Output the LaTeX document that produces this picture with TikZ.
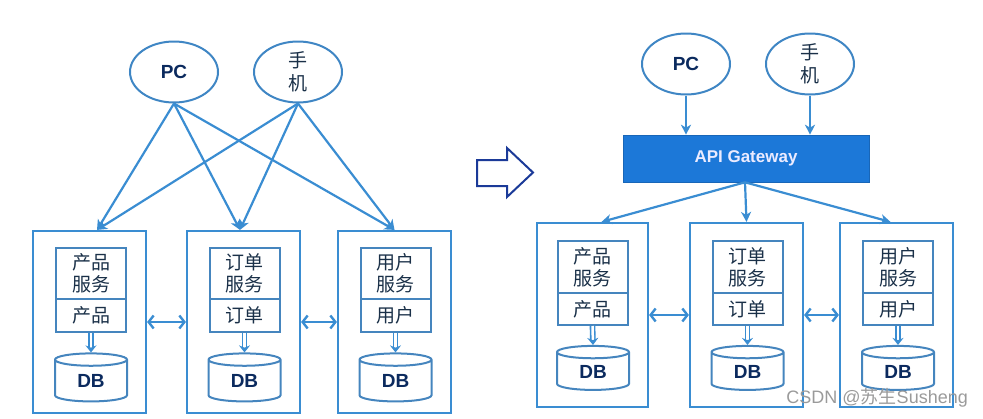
\documentclass[tikz,border=0pt]{standalone}
\usepackage{fontspec}
\setmainfont{Liberation Sans}
\newfontfamily\cjk{Noto Sans CJK SC}
\usetikzlibrary{arrows.meta,shapes.geometric}
\definecolor{lb}{HTML}{3A8DD2}
\definecolor{ib}{HTML}{4585BE}
\definecolor{el}{HTML}{3F86C4}
\definecolor{navy}{HTML}{0B2A5E}
\definecolor{txt}{HTML}{1A3048}
\definecolor{gw}{HTML}{1C78D8}
\definecolor{hol}{HTML}{1B3A98}
\definecolor{wm}{HTML}{9A9A9A}
\begin{document}
\begin{tikzpicture}[x=1pt,y=-1pt,
  outer/.style={draw=lb, line width=2.2pt, minimum width=113pt, minimum height=182pt, inner sep=0},
  svc/.style={draw=ib, line width=2pt, minimum width=70pt, minimum height=51pt, inner sep=0, font=\cjk\fontsize{19}{22}\selectfont, text=txt, align=center},
  tbl/.style={draw=ib, line width=2pt, minimum width=70pt, minimum height=33pt, inner sep=0, font=\cjk\fontsize{19}{22}\selectfont, text=txt},
  db/.style={cylinder, shape border rotate=90, aspect=0.45, draw=ib, line width=2pt, minimum width=72pt, minimum height=48pt, inner sep=0, font=\bfseries\fontsize{19}{20}\selectfont, text=navy},
  client/.style={ellipse, draw=el, line width=2pt, minimum width=88pt, minimum height=61pt, inner sep=0, text=navy},
  pcfont/.style={font=\bfseries\fontsize{19}{20}\selectfont},
  phfont/.style={font=\cjk\fontsize{19}{23}\selectfont, align=center, text=txt},
  arr/.style={draw=lb, line width=2.2pt, -{Stealth[length=10pt,width=10pt,inset=3pt]}},
  dbl/.style={draw=lb, double=white, double distance=2.5pt, line width=1.6pt, -{Stealth[length=7pt,width=11pt]}},
  bi/.style={draw=lb, line width=2.4pt, {Straight Barb[length=5pt,width=13pt]}-{Straight Barb[length=5pt,width=13pt]}},
]
\useasboundingbox (0,0) rectangle (983,418);

% ---------- left part ----------
\node[client, pcfont] (pcA) at (174,72) {PC};
\node[client, phfont] (phA) at (298,72) {手\\机};

\node[outer] (oA1) at (89.5,322) {};
\node[outer] (oA2) at (243.5,322) {};
\node[outer] (oA3) at (394.5,322) {};

\node[svc] (sA1) at (91,273.5) {产品\\服务};
\node[tbl] (tA1) at (91,315.5) {产品};
\node[svc] (sA2) at (244.5,273.5) {订单\\服务};
\node[tbl] (tA2) at (244.5,315.5) {订单};
\node[svc] (sA3) at (395.5,273.5) {用户\\服务};
\node[tbl] (tA3) at (395.5,315.5) {用户};

\node[db] (dA1) at (91,381) {DB};
\node[db] (dA2) at (244.5,381) {DB};
\node[db] (dA3) at (395.5,381) {DB};

\coordinate (inA1) at ([xshift=7.5pt]oA1.north);
\coordinate (inA2) at ([xshift=-3.5pt]oA2.north);
\coordinate (inA3) at (oA3.north);

\draw[arr] (pcA.south) -- (inA1);
\draw[arr] (pcA.south) -- (inA2);
\draw[arr] (pcA.south) -- (inA3);
\draw[arr] (phA.south) -- (inA1);
\draw[arr] (phA.south) -- (inA2);
\draw[arr] (phA.south) -- (inA3);

\draw[dbl] (tA1.south) -- (dA1.top);
\draw[dbl] (tA2.south) -- (dA2.top);
\draw[dbl] (tA3.south) -- (dA3.top);

\draw[bi] (oA1.east) -- (oA2.west);
\draw[bi] (oA2.east) -- (oA3.west);

% ---------- hollow arrow ----------
\draw[hol, line width=2pt, fill=white, line join=miter]
  (477,160) -- (507,160) -- (507,148) -- (533,172.5) -- (507,197) -- (507,186) -- (477,186) -- cycle;

% ---------- right part ----------
\node[client, pcfont] (pcB) at (686,64) {PC};
\node[client, phfont] (phB) at (810,64) {手\\机};

\node[fill=gw, draw=gw!85!black, line width=0.6pt, minimum width=246pt, minimum height=47pt, inner sep=0,
      text=white!92!blue, font=\bfseries\fontsize{17}{18}\selectfont] (gw) at (746,158.5) {API Gateway};

\node[outer, minimum width=111pt, minimum height=184pt] (oB1) at (592.5,315) {};
\node[outer, minimum width=113pt, minimum height=184pt] (oB2) at (746.5,315) {};
\node[outer, minimum width=113pt, minimum height=184pt] (oB3) at (896.5,315) {};

\node[svc, minimum height=52pt] (sB1) at (592.5,267) {产品\\服务};
\node[tbl, minimum height=32pt] (tB1) at (592.5,309) {产品};
\node[svc, minimum height=52pt] (sB2) at (747.5,267) {订单\\服务};
\node[tbl, minimum height=32pt] (tB2) at (747.5,309) {订单};
\node[svc, minimum height=52pt] (sB3) at (898,267) {用户\\服务};
\node[tbl, minimum height=32pt] (tB3) at (898,309) {用户};

\node[db, minimum height=44pt] (dB1) at (593,371.5) {DB};
\node[db, minimum height=44pt] (dB2) at (747.5,371.5) {DB};
\node[db, minimum height=44pt] (dB3) at (898,371.5) {DB};

\coordinate (gA) at ([xshift=-1pt]gw.south);
\coordinate (inB1) at ([xshift=9pt]oB1.north);
\coordinate (inB2) at (oB2.north);
\coordinate (inB3) at ([xshift=-6pt]oB3.north);

\draw[arr] (pcB.south) -- (pcB.south |- gw.north);
\draw[arr] (phB.south) -- (phB.south |- gw.north);
\draw[arr] (gA) -- (inB1);
\draw[arr] (gA) -- (inB2);
\draw[arr] (gA) -- (inB3);

\draw[dbl] (tB1.south) -- (dB1.top);
\draw[dbl] (tB2.south) -- (dB2.top);
\draw[dbl] (tB3.south) -- (dB3.top);

\draw[bi] (oB1.east) -- (oB2.west);
\draw[bi] (oB2.east) -- (oB3.west);

% ---------- watermark ----------
\node[text=wm, font=\fontsize{18}{20}\selectfont, anchor=east, inner sep=0] (wmk) at (968,398) {CSDN @{\cjk 苏生}Susheng};
\end{tikzpicture}
\end{document}
